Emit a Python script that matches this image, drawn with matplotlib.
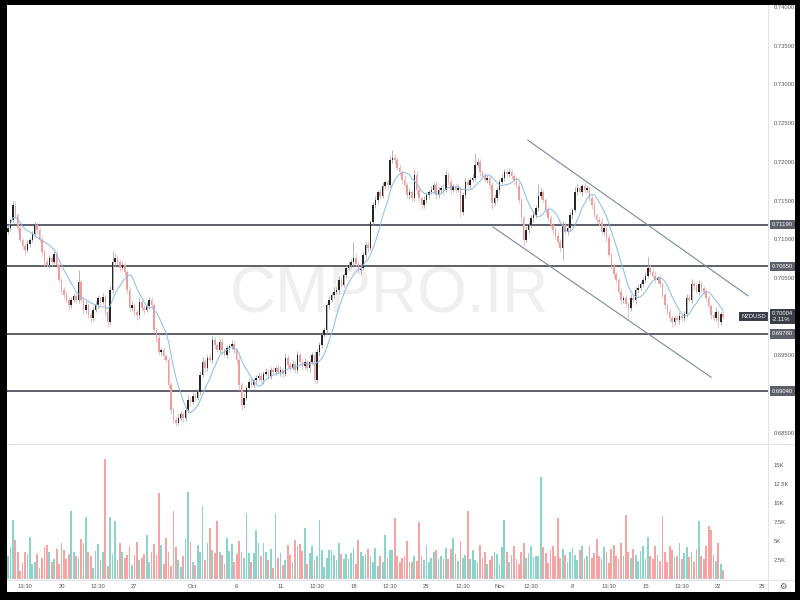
import numpy as np
import pandas as pd
import matplotlib
matplotlib.use('Agg')
import matplotlib.pyplot as plt
from matplotlib.patches import Rectangle
from matplotlib.lines import Line2D

plt.rcParams['font.family'] = ['Liberation Sans', 'DejaVu Sans']

# ==========================================
# DATA (NZDUSD, 4H candles, prices in pips)
# ==========================================
first_open = 7110
closes = [
    7115, 7125, 7144, 7131, 7115, 7099, 7091, 7086, 7094, 7099,
    7107, 7118, 7112, 7099, 7084, 7071, 7067, 7076, 7071, 7081,
    7067, 7048, 7035, 7028, 7022, 7015, 7022, 7027, 7022, 7045,
    7022, 7009, 7015, 7002, 6998, 7009, 7015, 7024, 7019, 7026,
    7006, 6993, 7035, 7071, 7076, 7071, 7063, 7067, 7058, 7035,
    7011, 7015, 7006, 7002, 7019, 7011, 7009, 7014, 7022, 7015,
    6983, 6973, 6954, 6957, 6949, 6944, 6912, 6880, 6867, 6863,
    6869, 6874, 6869, 6880, 6893, 6890, 6898, 6895, 6903, 6925,
    6942, 6934, 6947, 6944, 6970, 6964, 6957, 6967, 6957, 6951,
    6960, 6962, 6965, 6957, 6944, 6912, 6886, 6895, 6908, 6916,
    6912, 6918, 6921, 6924, 6918, 6926, 6929, 6924, 6931, 6929,
    6934, 6929, 6931, 6926, 6947, 6938, 6934, 6939, 6931, 6951,
    6942, 6936, 6942, 6934, 6942, 6951, 6918, 6954, 6964, 6977,
    6983, 7015, 7022, 7028, 7032, 7035, 7048, 7041, 7054, 7063,
    7067, 7071, 7076, 7068, 7060, 7063, 7080, 7093, 7089, 7122,
    7144, 7151, 7161, 7156, 7169, 7174, 7170, 7202, 7205, 7202,
    7192, 7187, 7177, 7170, 7157, 7161, 7153, 7183, 7164, 7153,
    7144, 7151, 7157, 7161, 7164, 7170, 7157, 7164, 7166, 7164,
    7183, 7174, 7164, 7169, 7164, 7166, 7135, 7157, 7174, 7170,
    7177, 7179, 7196, 7200, 7187, 7182, 7177, 7179, 7170, 7147,
    7153, 7164, 7174, 7179, 7187, 7184, 7187, 7182, 7177, 7169,
    7151, 7128, 7099, 7112, 7118, 7128, 7131, 7140, 7156, 7161,
    7151, 7138, 7128, 7118, 7112, 7104, 7097, 7089, 7118, 7109,
    7115, 7131, 7138, 7161, 7166, 7161, 7169, 7164, 7166, 7153,
    7144, 7131, 7125, 7122, 7109, 7115, 7102, 7080, 7066, 7055,
    7048, 7032, 7022, 7024, 7016, 7011, 7024, 7022, 7035, 7037,
    7042, 7048, 7053, 7063, 7058, 7053, 7048, 7050, 7042, 7028,
    7015, 7006, 6998, 6993, 6998, 6996, 7001, 6998, 7004, 7024,
    7022, 7042, 7040, 7032, 7042, 7037, 7032, 7024, 7014, 7002,
    6998, 7006, 6993, 7004, 7000,
]
upper_wick = [
    4, 3, 6, 5, 3, 4, 3, 4, 5, 3,
    4, 5, 3, 3, 4, 3, 5, 4, 3, 4,
    5, 3, 4, 3, 5, 4, 3, 4, 6, 15,
    3, 4, 5, 3, 4, 3, 5, 4, 3, 5,
    4, 3, 5, 14, 6, 4, 3, 5, 4, 3,
    4, 5, 3, 4, 6, 3, 4, 5, 3, 4,
    3, 4, 5, 3, 4, 3, 5, 4, 3, 4,
    5, 4, 3, 4, 6, 4, 5, 3, 4, 5,
    6, 4, 3, 5, 5, 4, 3, 4, 5, 3,
    4, 3, 5, 4, 3, 5, 4, 6, 3, 4,
    5, 3, 4, 5, 3, 4, 5, 3, 4, 5,
    3, 4, 5, 3, 6, 4, 3, 5, 4, 5,
    4, 3, 5, 4, 3, 4, 5, 4, 3, 5,
    4, 3, 5, 4, 6, 3, 5, 4, 3, 4,
    5, 4, 20, 6, 4, 5, 3, 4, 5, 3,
    4, 5, 3, 4, 5, 3, 4, 6, 10, 5,
    4, 5, 3, 6, 4, 5, 3, 6, 5, 4,
    3, 5, 4, 3, 5, 4, 5, 3, 4, 5,
    6, 4, 5, 3, 4, 5, 3, 4, 5, 4,
    3, 5, 16, 5, 4, 3, 5, 4, 3, 4,
    5, 3, 4, 5, 4, 3, 5, 4, 3, 4,
    5, 4, 3, 5, 4, 3, 5, 4, 15, 6,
    4, 3, 5, 4, 3, 4, 5, 3, 6, 4,
    5, 4, 3, 6, 5, 4, 3, 5, 4, 3,
    4, 5, 3, 4, 5, 3, 4, 5, 3, 4,
    3, 4, 5, 3, 4, 3, 5, 4, 3, 5,
    4, 3, 5, 14, 4, 5, 6, 3, 4, 3,
    4, 3, 5, 4, 3, 4, 5, 3, 4, 6,
    5, 7, 4, 3, 6, 4, 3, 5, 4, 3,
    4, 6, 3, 4, 3,
]
lower_wick = [
    3, 4, 3, 4, 5, 3, 4, 6, 3, 4,
    3, 4, 5, 3, 4, 6, 3, 4, 5, 3,
    4, 3, 5, 4, 3, 6, 4, 3, 5, 4,
    3, 5, 4, 3, 6, 4, 3, 5, 4, 3,
    5, 6, 3, 4, 5, 3, 4, 3, 5, 4,
    3, 4, 5, 6, 3, 4, 5, 3, 4, 3,
    4, 5, 3, 4, 5, 3, 4, 5, 4, 4,
    3, 4, 5, 3, 4, 5, 3, 4, 3, 4,
    3, 5, 4, 3, 4, 5, 3, 4, 5, 3,
    4, 5, 3, 4, 5, 6, 7, 4, 3, 4,
    3, 4, 5, 3, 4, 5, 3, 4, 5, 3,
    4, 3, 5, 4, 3, 4, 5, 3, 4, 3,
    4, 5, 3, 4, 5, 3, 4, 3, 5, 4,
    3, 4, 5, 3, 4, 3, 5, 4, 3, 4,
    3, 4, 5, 3, 4, 5, 3, 4, 5, 3,
    4, 3, 5, 4, 3, 4, 5, 3, 4, 5,
    3, 4, 5, 3, 4, 5, 3, 4, 5, 4,
    5, 3, 4, 5, 3, 4, 5, 3, 4, 5,
    3, 4, 5, 3, 4, 3, 6, 4, 3, 4,
    5, 3, 4, 3, 5, 4, 3, 4, 5, 8,
    3, 4, 5, 3, 4, 5, 3, 4, 5, 3,
    4, 5, 8, 3, 4, 3, 5, 4, 3, 4,
    3, 5, 4, 3, 5, 4, 3, 5, 16, 4,
    3, 4, 5, 3, 4, 3, 5, 4, 3, 4,
    5, 3, 4, 5, 3, 4, 5, 3, 4, 5,
    4, 3, 5, 4, 3, 14, 4, 3, 5, 4,
    3, 4, 5, 3, 4, 3, 5, 4, 3, 4,
    5, 4, 3, 6, 4, 3, 5, 4, 3, 4,
    3, 4, 5, 3, 4, 5, 3, 4, 3, 5,
    4, 3, 8, 4, 3,
]
volume_k = [
    3.0, 4.2, 7.8, 5.1, 3.5, 1.0, 2.1, 3.6, 3.3, 5.6,
    2.0, 2.2, 3.3, 1.5, 2.8, 4.2, 4.5, 3.5, 2.2, 2.7,
    3.9, 2.0, 4.8, 3.8, 2.6, 3.3, 9.0, 3.5, 3.0, 2.8,
    5.3, 4.8, 8.2, 3.5, 3.0, 1.5, 3.7, 4.6, 2.5, 3.5,
    15.8, 1.7, 8.2, 3.3, 7.6, 2.5, 4.7, 3.5, 2.8, 3.2,
    4.3, 1.8, 3.2, 4.9, 2.5, 2.8, 3.3, 5.8, 2.2, 3.6,
    4.6, 3.2, 11.3, 4.5, 2.0, 5.4, 3.6, 1.7, 9.0, 4.2,
    2.5, 1.6, 3.0, 5.3, 11.5, 4.9, 2.2, 1.9, 4.5, 3.6,
    9.6, 2.5, 4.7, 6.7, 3.8, 3.4, 7.6, 3.5, 3.2, 2.0,
    5.4, 3.7, 4.6, 2.2, 3.3, 5.0, 3.5, 2.8, 8.7, 3.4,
    2.2, 3.4, 6.4, 4.8, 3.1, 4.7, 3.6, 2.5, 3.9, 1.5,
    8.7, 2.8, 3.4, 1.8, 2.5, 4.5, 3.2, 2.2, 5.2, 4.3,
    4.6, 3.7, 6.7, 2.0, 3.4, 4.4, 2.5, 3.0, 7.8, 3.8,
    1.6, 2.8, 3.8, 3.8, 3.2, 2.5, 4.7, 3.3, 2.7, 3.3,
    2.6, 3.4, 4.1, 2.0, 5.2, 3.6, 3.0, 3.3, 4.0, 3.0,
    2.2, 4.1, 1.7, 3.0, 2.2, 5.8, 2.8, 3.8, 3.8, 8.0,
    3.1, 2.3, 2.8, 3.0, 5.0, 2.3, 2.2, 3.0, 2.4, 7.5,
    3.1, 2.5, 4.5, 2.2, 2.8, 3.5, 3.8, 2.6, 3.0, 2.6,
    4.1, 2.6, 3.9, 5.4, 3.3, 2.4, 5.0, 2.8, 3.2, 9.0,
    2.7, 3.8, 2.5, 2.2, 4.5, 2.8, 3.5, 2.0, 2.5, 3.1,
    3.6, 3.3, 2.0, 4.2, 7.8, 3.5, 2.2, 3.2, 4.4, 2.6,
    2.0, 3.6, 4.8, 2.8, 3.4, 4.4, 2.9, 3.0, 3.1, 13.4,
    4.2, 3.4, 2.1, 3.8, 4.4, 3.0, 8.0, 2.8, 4.0, 3.2,
    2.3, 3.5, 4.1, 3.2, 2.5, 3.8, 4.3, 2.7, 3.0, 4.4,
    2.8, 3.4, 5.3, 3.0, 2.6, 4.2, 3.5, 2.1, 3.9, 4.5,
    3.0, 2.6, 4.7, 3.1, 8.4, 3.6, 2.8, 4.0, 3.2, 2.4,
    3.7, 4.3, 2.6, 5.5, 3.0, 2.7, 4.4, 3.2, 2.4, 8.3,
    3.5, 2.2, 4.3, 3.8, 2.9, 3.1, 4.8, 2.6, 3.4, 4.2,
    2.9, 3.6, 2.3, 4.0, 7.6, 3.0, 2.6, 4.4, 7.0, 6.5,
    3.2, 2.4, 4.7, 2.0, 1.2,
]

# time axis labels (candle index where the label sits)
tick_idx = [7, 22, 37, 52, 76, 94, 112, 127, 142, 157, 172, 187, 202, 215, 232, 247, 262, 277, 292, 310]
tick_txt = ['13:30', '20', '12:30', '27', 'Oct', '6', '11', '12:30', '18', '12:30', '25', '12:30',
            'Nov', '12:30', '8', '13:30', '15', '13:30', '22', '25']

levels = [0.71190, 0.70650, 0.69780, 0.69040]
price_ticks = [0.685, 0.695, 0.705, 0.710, 0.715, 0.720, 0.725, 0.730, 0.735, 0.740]
vol_ticks = [2.5, 5, 7.5, 10, 12.5, 15]
vol_tick_txt = ['2.5K', '5K', '7.5K', '10K', '12.5K', '15K']

# channel lines: (candle index, price)
channel_top = [(213.7, 0.7228), (304.2, 0.7027)]
channel_bottom = [(199.3, 0.7116), (289.0, 0.6922)]

symbol = 'NZDUSD'
last_price = 0.70004
change_pct = '-2.11%'

# ==========================================
# PREPARAÇÃO
# ==========================================
close = np.array(closes) / 10000
opn = np.concatenate([[first_open / 10000], close[:-1]])
high = np.maximum(opn, close) + np.array(upper_wick) / 10000
low = np.minimum(opn, close) - np.array(lower_wick) / 10000
vol = np.array(volume_k)
idx = np.arange(len(close))
is_up = close >= opn
ma = pd.Series(close).rolling(9, min_periods=1).mean()

W, H = 800, 600
fig = plt.figure(figsize=(8, 6), dpi=100, facecolor='white')

def fx(px):
    return px / W

def fy(py):
    return 1 - py / H

ax = fig.add_axes([fx(7), fy(443), fx(768 - 7), (443 - 5) / H])
axv = fig.add_axes([fx(7), fy(580), fx(768 - 7), (580 - 444) / H], sharex=ax)

# ==========================================
# PRICE PANEL
# ==========================================
ax.text(157, 0.7028, 'CMPRO.IR', fontsize=46, color='#efefef', ha='center', va='center', zorder=0)

for lv in levels:
    ax.axhline(lv, color='#5d606b', lw=1.4, zorder=1)

wick_col = np.where(is_up, '#a8a8a8', '#f3b9b9')
body_col = np.where(is_up, '#262626', '#f19c9c')
ax.vlines(idx, low, high, colors=wick_col, lw=0.6, zorder=2)
body_h = np.maximum(np.abs(close - opn), 0.00007)
ax.bar(idx, body_h, bottom=np.minimum(opn, close), width=0.62, color=body_col, linewidth=0, zorder=3)

ax.plot(idx, ma, color='#86bbe6', lw=0.7, zorder=4)

for line in (channel_top, channel_bottom):
    ax.plot([line[0][0], line[1][0]], [line[0][1], line[1][1]], color='#7d889b', lw=0.8, zorder=4)

ax.set_xlim(-0.4, 312.4)
ax.set_ylim(0.68370, 0.74026)
ax.yaxis.tick_right()
ax.set_yticks(price_ticks)
ax.set_yticklabels([f'{t:.5f}' for t in price_ticks])
ax.tick_params(axis='y', length=0, pad=4, labelsize=4.2, colors='#555555')
ax.tick_params(axis='x', length=0, labelbottom=False)
for s in ax.spines.values():
    s.set_visible(False)

for lv in levels:
    ax.annotate(f'{lv:.5f}', xy=(1, lv), xycoords=('axes fraction', 'data'), xytext=(3, 0),
                textcoords='offset points', ha='left', va='center', fontsize=4.2, color='white',
                bbox=dict(boxstyle='square,pad=0.4', fc='#5d606b', ec='none'), annotation_clip=False, zorder=6)

ax.annotate(f'{last_price:.5f}\n{change_pct}', xy=(1, last_price), xycoords=('axes fraction', 'data'),
            xytext=(3, 0), textcoords='offset points', ha='left', va='center', fontsize=4.2,
            color='white', linespacing=1.1,
            bbox=dict(boxstyle='square,pad=0.4', fc='#3b3e46', ec='none'), annotation_clip=False, zorder=7)
ax.annotate(symbol, xy=(1, last_price), xycoords=('axes fraction', 'data'), xytext=(-1.5, 0),
            textcoords='offset points', ha='right', va='center', fontsize=4.2, color='white',
            bbox=dict(boxstyle='square,pad=0.4', fc='#3b3e46', ec='none'), annotation_clip=False, zorder=7)

# ==========================================
# VOLUME PANEL
# ==========================================
vol_col = np.where(is_up, '#8ad4ca', '#f5a3a3')
axv.bar(idx, vol, width=0.72, color=vol_col, linewidth=0)
axv.set_ylim(-0.13, 17.8)
axv.yaxis.tick_right()
axv.set_yticks(vol_ticks)
axv.set_yticklabels(vol_tick_txt)
axv.tick_params(axis='y', length=0, pad=4, labelsize=4.2, colors='#555555')
axv.set_xticks(tick_idx)
axv.set_xticklabels(tick_txt)
axv.tick_params(axis='x', length=0, pad=3, labelsize=4.2, colors='#555555')
for s in axv.spines.values():
    s.set_visible(False)

# ==========================================
# SEPARADORES E MOLDURA
# ==========================================
for py in (443.5, 580):
    fig.add_artist(Line2D([fx(7), fx(795)], [fy(py), fy(py)], color='#e0e3eb', lw=0.8))
fig.add_artist(Line2D([fx(768), fx(768)], [fy(592), fy(5)], color='#e0e3eb', lw=0.8))
fig.text(fx(783), fy(586), '\u2699', fontsize=6, color='#555555', ha='center', va='center',
         family='DejaVu Sans')

for rect in [(0, 0, 1, 8 / H), (0, fy(5), 1, 5 / H), (0, 0, fx(7), 1), (fx(795), 0, fx(5), 1)]:
    fig.add_artist(Rectangle(rect[:2], rect[2], rect[3], transform=fig.transFigure,
                             facecolor='black', edgecolor='none', zorder=20))

fig.savefig('out.png', dpi=100, facecolor='white')
plt.close(fig)
